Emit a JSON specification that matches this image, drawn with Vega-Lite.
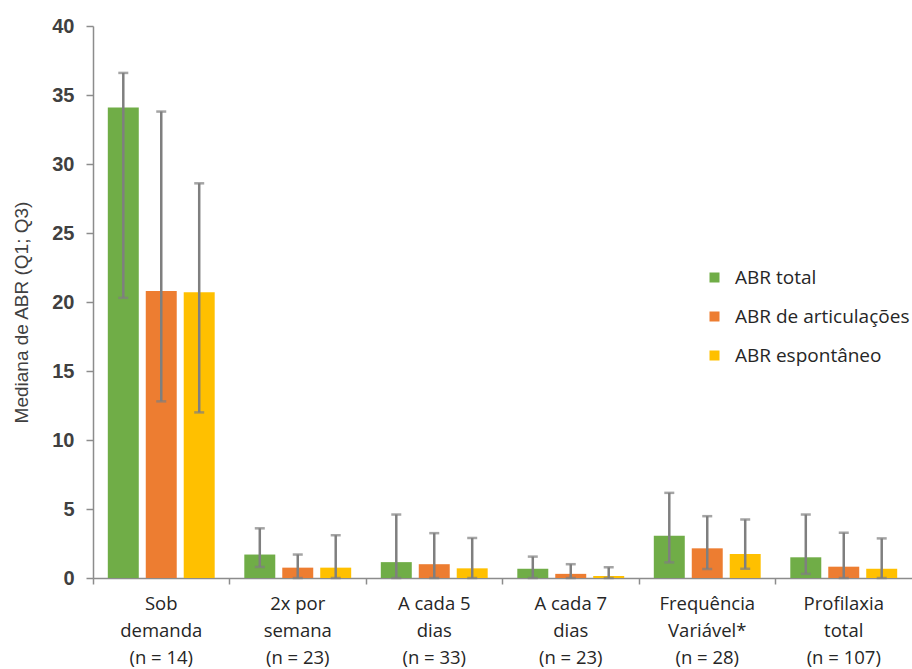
{
  "$schema": "https://vega.github.io/schema/vega-lite/v6.json",
  "width": 819,
  "height": 552,
  "autosize": {"type": "none"},
  "padding": {"left": 93, "top": 26, "right": 0, "bottom": 91},
  "background": "white",
  "config": {
    "view": {"stroke": null},
    "axis": {"grid": false, "domainColor": "#8c8c8c", "tickColor": "#8c8c8c", "domainWidth": 1.5, "tickWidth": 1.5}
  },
  "data": {
    "values": [
      {"cat": "Sob|demanda|(n = 14)", "series": "ABR total", "value": 34.1, "lo": 20.3, "hi": 36.6},
      {"cat": "Sob|demanda|(n = 14)", "series": "ABR de articulações", "value": 20.8, "lo": 12.8, "hi": 33.8},
      {"cat": "Sob|demanda|(n = 14)", "series": "ABR espontâneo", "value": 20.7, "lo": 12.0, "hi": 28.6},
      {"cat": "2x por|semana|(n = 23)", "series": "ABR total", "value": 1.7, "lo": 0.8, "hi": 3.6},
      {"cat": "2x por|semana|(n = 23)", "series": "ABR de articulações", "value": 0.75, "lo": 0, "hi": 1.7},
      {"cat": "2x por|semana|(n = 23)", "series": "ABR espontâneo", "value": 0.75, "lo": 0, "hi": 3.1},
      {"cat": "A cada 5|dias|(n = 33)", "series": "ABR total", "value": 1.15, "lo": 0, "hi": 4.6},
      {"cat": "A cada 5|dias|(n = 33)", "series": "ABR de articulações", "value": 1.0, "lo": 0, "hi": 3.25},
      {"cat": "A cada 5|dias|(n = 33)", "series": "ABR espontâneo", "value": 0.7, "lo": 0, "hi": 2.9},
      {"cat": "A cada 7|dias|(n = 23)", "series": "ABR total", "value": 0.67, "lo": 0, "hi": 1.55},
      {"cat": "A cada 7|dias|(n = 23)", "series": "ABR de articulações", "value": 0.3, "lo": 0, "hi": 1.0},
      {"cat": "A cada 7|dias|(n = 23)", "series": "ABR espontâneo", "value": 0.15, "lo": 0, "hi": 0.77},
      {"cat": "Frequência|Variável*|(n = 28)", "series": "ABR total", "value": 3.06, "lo": 1.13, "hi": 6.17},
      {"cat": "Frequência|Variável*|(n = 28)", "series": "ABR de articulações", "value": 2.15, "lo": 0.65, "hi": 4.48},
      {"cat": "Frequência|Variável*|(n = 28)", "series": "ABR espontâneo", "value": 1.74, "lo": 0.67, "hi": 4.24},
      {"cat": "Profilaxia|total|(n = 107)", "series": "ABR total", "value": 1.5, "lo": 0.3, "hi": 4.6},
      {"cat": "Profilaxia|total|(n = 107)", "series": "ABR de articulações", "value": 0.82, "lo": 0, "hi": 3.28},
      {"cat": "Profilaxia|total|(n = 107)", "series": "ABR espontâneo", "value": 0.67, "lo": 0, "hi": 2.87}
    ]
  },
  "encoding": {
    "x": {
      "field": "cat", "type": "nominal", "sort": null,
      "scale": {"paddingInner": 0, "paddingOuter": 0},
      "axis": {
        "title": null, "labelAngle": 0, "bandPosition": 0, "tickSize": 6,
        "labelExpr": "split(datum.label, '|')",
        "labelFont": "Open Sans", "labelFontSize": 18.5, "labelColor": "#262626",
        "labelLineHeight": 27, "labelPadding": 10, "labelLimit": 200
      }
    },
    "xOffset": {
      "field": "series", "type": "nominal", "sort": ["ABR total", "ABR de articulações", "ABR espontâneo"],
      "scale": {"paddingInner": 0.184, "paddingOuter": 0.39}
    }
  },
  "layer": [
    {
      "mark": {"type": "bar"},
      "encoding": {
        "y": {
          "field": "value", "type": "quantitative",
          "scale": {"domain": [0, 40], "nice": false},
          "axis": {
            "title": "Mediana de ABR (Q1; Q3)",
            "values": [0, 5, 10, 15, 20, 25, 30, 35, 40],
            "tickSize": 7, "labelPadding": 12,
            "labelFont": "Liberation Sans", "labelFontSize": 20, "labelFontWeight": "bold", "labelColor": "#404040",
            "titleFont": "Liberation Sans", "titleFontSize": 19, "titleFontWeight": "normal", "titleColor": "#404040",
            "titlePadding": 20, "titleY": 286
          }
        },
        "color": {
          "field": "series", "type": "nominal",
          "scale": {"domain": ["ABR total", "ABR de articulações", "ABR espontâneo"], "range": ["#70AD47", "#ED7D31", "#FFC000"]},
          "legend": {
            "title": null, "orient": "none", "legendX": 612, "legendY": 242,
            "symbolType": "square", "symbolSize": 100, "symbolStrokeWidth": 0,
            "labelFont": "Open Sans", "labelFontSize": 19, "labelColor": "#262626",
            "labelOffset": 11, "rowPadding": 19, "labelLimit": 400
          }
        }
      }
    },
    {
      "mark": {"type": "rule", "color": "#7f7f7f", "strokeWidth": 2.5},
      "encoding": {
        "y": {"field": "lo", "type": "quantitative"},
        "y2": {"field": "hi"}
      }
    },
    {
      "mark": {"type": "tick", "color": "#7f7f7f", "thickness": 2.5, "size": 10},
      "encoding": {
        "y": {"field": "hi", "type": "quantitative"}
      }
    },
    {
      "mark": {"type": "tick", "color": "#7f7f7f", "thickness": 2.5, "size": 10},
      "encoding": {
        "y": {"field": "lo", "type": "quantitative"}
      }
    }
  ]
}
